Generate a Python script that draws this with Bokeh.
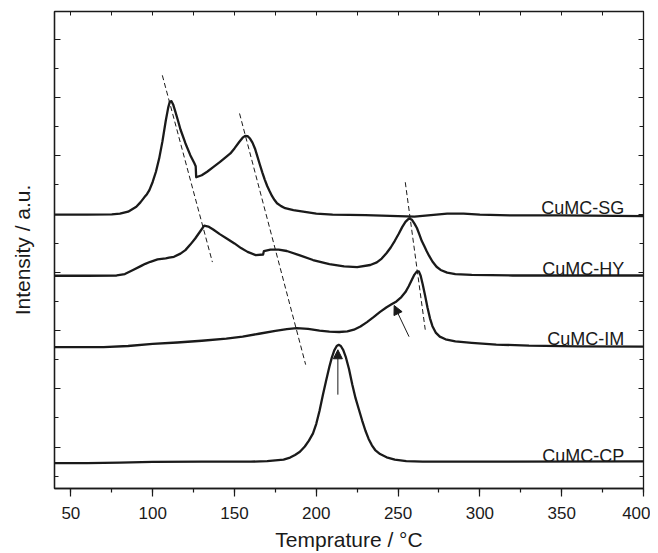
from bokeh.plotting import figure
from bokeh.models import (ColumnDataSource, LinearAxis, SingleIntervalTicker, FixedTicker,
                          Arrow, NormalHead, Range1d)
from bokeh.core.properties import value
from bokeh.embed import file_html
from bokeh.resources import INLINE

# ---------------- data ----------------
sg_t = [40, 60, 75, 80, 85, 90, 92.5, 95, 96.5, 98, 100, 102, 104, 106, 108, 109.5, 110.5,
        111.5, 112.5, 114, 115.5, 117, 120, 123, 125.5, 126.3, 126.6, 130, 133.3, 137, 141,
        144, 147.5, 150, 153, 155, 156.5, 158, 159.5, 161, 162.5, 164, 165.5, 167, 168.5,
        170, 171.5, 173, 174.5, 176, 178.5, 181, 186, 193, 200, 210, 230, 250, 260, 270,
        280, 290, 300, 320, 350, 400]
sg_y = [9.98, 9.98, 9.99, 10.01, 10.08, 10.25, 10.40, 10.58, 10.68, 10.82, 11.10, 11.45,
        11.91, 12.50, 13.20, 13.65, 13.86, 13.87, 13.76, 13.49, 13.20, 12.90, 12.43, 12.02,
        11.74, 11.64, 11.26, 11.33, 11.45, 11.61, 11.78, 11.92, 12.08, 12.25, 12.48, 12.62,
        12.68, 12.67, 12.59, 12.45, 12.25, 11.98, 11.70, 11.43, 11.18, 10.96, 10.78, 10.61,
        10.48, 10.37, 10.27, 10.20, 10.13, 10.07, 10.01, 9.98, 9.96, 9.93, 9.91, 9.96, 10.01,
        10.01, 9.98, 9.95, 9.95, 9.93]

hy_t = [40, 60, 78, 83, 88, 93, 95.5, 98.6, 103, 108, 110, 113, 117, 120, 123, 126, 129,
        131.5, 134, 137, 141, 145, 150, 154, 158, 163, 167.5, 168, 172, 177, 182, 190, 198,
        208, 217, 225, 233, 237, 240, 243, 245.5, 248, 250.5, 252.5, 254.5, 256.7, 258.5,
        260, 261.5, 263, 264.5, 266, 267.5, 269, 271, 273.5, 276, 280, 285, 295, 320, 400]
hy_y = [7.88, 7.88, 7.89, 7.94, 8.08, 8.22, 8.29, 8.36, 8.44, 8.48, 8.50, 8.53, 8.64, 8.76,
        8.95, 9.16, 9.40, 9.60, 9.57, 9.47, 9.31, 9.17, 8.99, 8.83, 8.70, 8.59, 8.61, 8.73,
        8.78, 8.78, 8.73, 8.58, 8.42, 8.28, 8.20, 8.18, 8.25, 8.34, 8.47, 8.66, 8.85, 9.08,
        9.33, 9.55, 9.73, 9.85, 9.80, 9.67, 9.52, 9.30, 9.07, 8.90, 8.72, 8.56, 8.37, 8.19,
        8.08, 7.99, 7.94, 7.91, 7.89, 7.89]

im_t = [40, 70, 85, 100, 115, 130, 145, 155, 165, 175, 182, 188, 195, 202, 208, 214, 219,
        223, 227, 231, 235, 239, 243, 246, 249, 252, 254.5, 256.5, 258.5, 260, 261.5, 262.7,
        263.8, 265, 266.5, 268, 269.5, 271, 273, 275.5, 279, 285, 295, 310, 330, 360, 400]
im_y = [5.43, 5.43, 5.47, 5.54, 5.59, 5.65, 5.72, 5.79, 5.89, 5.99, 6.05, 6.08, 6.06, 6.00,
        5.96, 5.95, 5.97, 6.03, 6.14, 6.29, 6.46, 6.64, 6.80, 6.90, 7.00, 7.15, 7.32, 7.52,
        7.75, 7.92, 8.03, 8.03, 7.88, 7.60, 7.20, 6.78, 6.42, 6.15, 5.93, 5.79, 5.70, 5.63,
        5.58, 5.52, 5.48, 5.46, 5.45]

cp_t = [40, 60, 80, 100, 130, 160, 170, 180, 184, 187, 190, 193, 195.5, 198, 200, 202, 204,
        206, 208, 209.5, 211, 212.5, 213.7, 215, 216.5, 218, 220, 222, 224, 226, 228, 230,
        232, 234, 236, 239, 243, 248, 255, 265, 300, 400]
cp_y = [1.45, 1.45, 1.47, 1.49, 1.50, 1.50, 1.52, 1.57, 1.64, 1.73, 1.84, 2.02, 2.22, 2.47,
        2.80, 3.25, 3.78, 4.28, 4.76, 5.07, 5.32, 5.47, 5.51, 5.47, 5.33, 5.10, 4.68, 4.15,
        3.68, 3.30, 2.92, 2.57, 2.28, 2.06, 1.90, 1.76, 1.65, 1.57, 1.52, 1.50, 1.50, 1.51]

names = ["CuMC-SG", "CuMC-HY", "CuMC-IM", "CuMC-CP"]
label_x = [388.2, 388.2, 388.2, 388.2]
label_y = [10.19, 8.10, 5.71, 1.68]

# dashed guide lines (start / end)
dash_x0 = [105.9, 153.1, 254.4]
dash_y0 = [14.76, 13.45, 11.09]
dash_x1 = [136.5, 193.5, 266.6]
dash_y1 = [8.35, 4.83, 6.03]

# arrows (tail -> tip)
arr_x0 = [213.2, 256.7]
arr_y0 = [3.80, 5.79]
arr_x1 = [213.2, 247.6]
arr_y1 = [5.34, 6.86]

x_ticks_interval = 50
y_tick_values = list(range(1, 17))

FONT = "Liberation Sans"
INK = "#1a1a1a"

p = figure(width=650, height=553, x_range=Range1d(40, 400), y_range=Range1d(0.579, 16.95),
           output_backend="svg", toolbar_location=None,
           min_border_left=54, min_border_right=7, min_border_top=11, min_border_bottom=64)
p.background_fill_color = "white"
p.border_fill_color = "white"
p.xgrid.visible = False
p.ygrid.visible = False
p.outline_line_color = INK
p.outline_line_width = 1.3

# bottom axis
xa = p.xaxis[0]
xa.ticker = SingleIntervalTicker(interval=x_ticks_interval, num_minor_ticks=2)
xa.axis_label = "Temprature / °C"
xa.axis_label_text_font = FONT
xa.axis_label_text_font_size = "21px"
xa.axis_label_text_font_style = "normal"
xa.axis_label_text_color = INK
xa.axis_label_standoff = 6
xa.major_label_text_font = FONT
xa.major_label_text_font_size = "17px"
xa.major_label_text_color = INK
xa.major_label_standoff = 10
xa.major_tick_out = 8
xa.major_tick_in = 0
xa.minor_tick_out = 4
xa.minor_tick_in = 0
xa.axis_line_color = INK
xa.axis_line_width = 1.3
xa.major_tick_line_color = INK
xa.minor_tick_line_color = INK
xa.major_tick_line_width = 1.2
xa.minor_tick_line_width = 1.2

# left axis
ya = p.yaxis[0]
ya.ticker = FixedTicker(ticks=[v for v in y_tick_values if v % 2 == 0],
                        minor_ticks=[v for v in y_tick_values if v % 2 == 1])
ya.axis_label = "Intensity / a.u."
ya.axis_label_text_font = FONT
ya.axis_label_text_font_size = "21px"
ya.axis_label_text_font_style = "normal"
ya.axis_label_text_color = INK
ya.axis_label_standoff = 21
ya.major_label_text_font_size = "0px"
ya.major_label_standoff = 0
ya.major_tick_in = 6
ya.major_tick_out = 0
ya.minor_tick_in = 4
ya.minor_tick_out = 0
ya.axis_line_color = INK
ya.axis_line_width = 1.3
ya.major_tick_line_color = INK
ya.minor_tick_line_color = INK

# top axis (ticks only)
top = LinearAxis(ticker=SingleIntervalTicker(interval=25, num_minor_ticks=0),
                 major_label_text_font_size="0px", major_label_standoff=0,
                 major_tick_in=4, major_tick_out=0, minor_tick_in=0, minor_tick_out=0,
                 axis_line_color=INK, major_tick_line_color=INK)
p.add_layout(top, "above")

# right axis (ticks only)
right = LinearAxis(ticker=FixedTicker(ticks=[v for v in y_tick_values if v % 2 == 0],
                                      minor_ticks=[v for v in y_tick_values if v % 2 == 1]),
                   major_label_text_font_size="0px", major_label_standoff=0,
                   major_tick_in=5, major_tick_out=0, minor_tick_in=4, minor_tick_out=0,
                   axis_line_color=INK, major_tick_line_color=INK, minor_tick_line_color=INK)
p.add_layout(right, "right")

# curves
for t, y in [(sg_t, sg_y), (hy_t, hy_y), (im_t, im_y), (cp_t, cp_y)]:
    p.line(t, y, line_color=INK, line_width=2.3, line_join="round")

# dashed guides
p.segment(x0=dash_x0, y0=dash_y0, x1=dash_x1, y1=dash_y1,
          line_color=INK, line_width=1, line_dash="5 3")

# arrows
asrc = ColumnDataSource(dict(x0=arr_x0, y0=arr_y0, x1=arr_x1, y1=arr_y1))
p.add_layout(Arrow(source=asrc, x_start="x0", y_start="y0", x_end="x1", y_end="y1",
                   line_color=INK, line_width=1,
                   end=NormalHead(size=9, fill_color=INK, line_color=INK, line_width=1)))

# curve labels
p.text(x=label_x, y=label_y, text=names, text_align="right", text_baseline="alphabetic",
       text_font=value(FONT), text_font_size="18px", text_color=INK)

open("out.html", "w").write(file_html(p, INLINE))
